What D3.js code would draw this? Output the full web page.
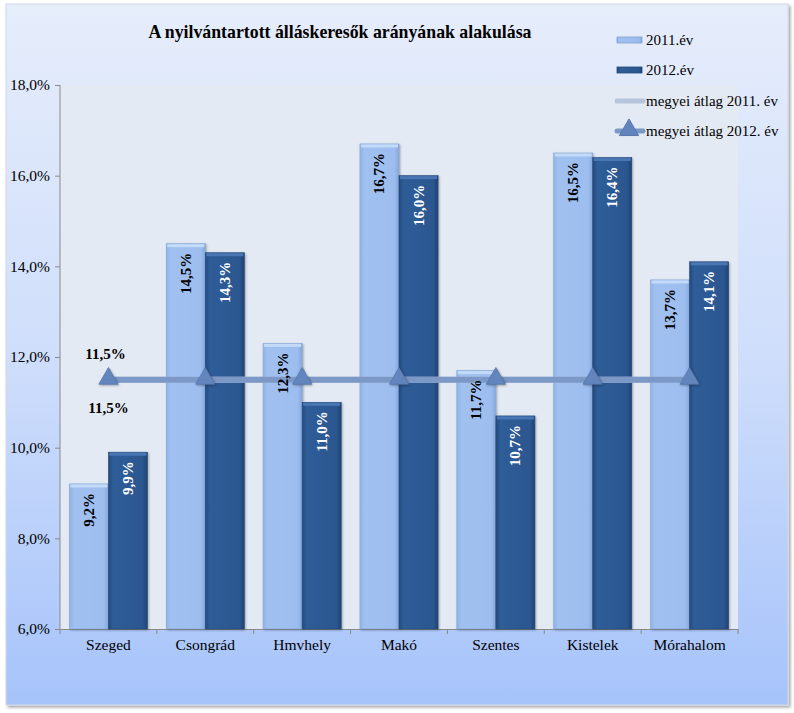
<!DOCTYPE html>
<html><head><meta charset="utf-8">
<script src="https://cdn.jsdelivr.net/npm/d3@7"></script>
<style>body{margin:0;background:#fff}svg{display:block}text{font-family:"Liberation Serif","Times New Roman",serif}</style>
</head><body>
<script>
const categories = ["Szeged","Csongrád","Hmvhely","Makó","Szentes","Kistelek","Mórahalom"];
const series = ["2011.év","2012.év"];
const values2011 = [9.2,14.5,12.3,16.7,11.7,16.5,13.7];
const values2012 = [9.9,14.3,11.0,16.0,10.7,16.4,14.1];
const avg2011 = [11.5,11.5,11.5,11.5,11.5,11.5,11.5];
const avg2012 = [11.5,11.5,11.5,11.5,11.5,11.5,11.5];
const yTicks = [6,8,10,12,14,16,18];
const lineNames = ["megyei átlag 2011. év","megyei átlag 2012. év"];
const title = "A nyilvántartott álláskeresők arányának alakulása";

const W=794,H=713;
const svg=d3.select("body").append("svg").attr("width",W).attr("height",H);
const defs=svg.append("defs");
const bg=defs.append("linearGradient").attr("id","bg").attr("x1",0).attr("y1",0).attr("x2",0).attr("y2",1);
bg.append("stop").attr("offset","0").attr("stop-color","#e6edfb");
bg.append("stop").attr("offset","0.5").attr("stop-color","#cfdefb");
bg.append("stop").attr("offset","1").attr("stop-color","#a6c3fa");
const g1=defs.append("linearGradient").attr("id","gl").attr("x1",0).attr("x2",1);
g1.append("stop").attr("offset","0").attr("stop-color","#8fb2e6");
g1.append("stop").attr("offset","0.12").attr("stop-color","#a0c1f0");
g1.append("stop").attr("offset","0.88").attr("stop-color","#9cbdee");
g1.append("stop").attr("offset","1").attr("stop-color","#86a8dc");
const g2=defs.append("linearGradient").attr("id","gd").attr("x1",0).attr("x2",1);
g2.append("stop").attr("offset","0").attr("stop-color","#244a7c");
g2.append("stop").attr("offset","0.12").attr("stop-color","#2f5d98");
g2.append("stop").attr("offset","0.88").attr("stop-color","#2b5690");
g2.append("stop").attr("offset","1").attr("stop-color","#1f4272");
const sh=defs.append("filter").attr("id","sh").attr("x","-5%").attr("y","-5%").attr("width","110%").attr("height","110%");
sh.append("feDropShadow").attr("dx",2).attr("dy",2).attr("stdDeviation",1.5).attr("flood-color","#000").attr("flood-opacity",0.35);

// outer frame
svg.append("rect").attr("x",6).attr("y",4).attr("width",782).attr("height",701).attr("fill","url(#bg)").attr("stroke","#d0d8e8").attr("filter","url(#sh)");

const m={l:60,r:738,t:85,b:629};
const y=d3.scaleLinear().domain([6,18]).range([m.b,m.t]);
const x0=d3.scaleBand().domain(categories).range([m.l,m.r]).padding(0);
const x1=d3.scaleBand().domain(series).range([0,x0.bandwidth()]).paddingInner(0).paddingOuter(0.24);

svg.append("rect").attr("x",m.l).attr("y",m.t).attr("width",m.r-m.l).attr("height",m.b-m.t).attr("fill","#e4eaf3");

// axes
const yA=svg.append("g").attr("transform",`translate(${m.l},0)`).call(d3.axisLeft(y).tickValues(yTicks).tickSize(5).tickFormat(d=>d.toFixed(1).replace(".",",")+"%"));
yA.selectAll("text").attr("font-size",15.5).attr("fill","#000").attr("dx",-2);
yA.selectAll("line,path").attr("stroke","#8a8a8a");
yA.select("path").attr("d",`M0,${m.t}V${m.b}`);

const xA=svg.append("g").attr("transform",`translate(0,${m.b})`).call(d3.axisBottom(x0).tickSize(0).tickPadding(10));
xA.select("path").attr("stroke","#8a8a8a");
xA.selectAll("text").attr("font-size",15.5).attr("fill","#000");
xA.selectAll(".bnd").data(categories.concat(["_end"])).enter().append("line")
  .attr("x1",(d,i)=>m.l+i*x0.step()).attr("x2",(d,i)=>m.l+i*x0.step()).attr("y1",0).attr("y2",5).attr("stroke","#8a8a8a");

// bars
const data=categories.map((c,i)=>({c,vals:[values2011[i],values2012[i]]}));
const grp=svg.append("g").selectAll("g").data(data).enter().append("g").attr("transform",d=>`translate(${x0(d.c)},0)`);
grp.selectAll("rect.bar").data(d=>d.vals.map((v,j)=>({v,s:series[j],j}))).enter().append("rect")
  .attr("class","bar").attr("x",d=>x1(d.s)).attr("width",x1.bandwidth()).attr("y",d=>y(d.v)).attr("height",d=>y(6)-y(d.v))
  .attr("fill",d=>d.j?"url(#gd)":"url(#gl)").attr("stroke",d=>d.j?"#234a7a":"#88a9da").attr("stroke-width",0.6)
  .style("filter","drop-shadow(1px 1px 1px rgba(0,0,0,0.3))");
grp.selectAll("rect.top").data(d=>d.vals.map((v,j)=>({v,s:series[j],j}))).enter().append("rect")
  .attr("x",d=>x1(d.s)+1).attr("width",x1.bandwidth()-2).attr("y",d=>y(d.v)+0.5).attr("height",3)
  .attr("fill",d=>d.j?"#4a77b3":"#c3daf8");

// average lines
const cx=c=>x0(c)+x0.bandwidth()/2;
const ln=d3.line().x((d,i)=>cx(categories[i])).y(d=>y(d));
svg.append("path").attr("d",ln(avg2011)).attr("fill","none").attr("stroke","#b6c4dc").attr("stroke-width",6);
svg.append("path").attr("d",ln(avg2012)).attr("fill","none").attr("stroke","#7b98c6").attr("stroke-width",6);
const tri=d3.symbol().type(d3.symbolTriangle).size(160);
svg.append("g").selectAll("path").data(avg2012).enter().append("path")
  .attr("d",tri).attr("transform",(d,i)=>`translate(${cx(categories[i])},${y(d)-1})`)
  .attr("fill","#6285bd").attr("stroke","#5577ad").attr("stroke-width",0.8)
  .style("filter","drop-shadow(1px 1px 1px rgba(0,0,0,0.3))");

// bar labels (on top)
const lab=svg.append("g").selectAll("g").data(data).enter().append("g").attr("transform",d=>`translate(${x0(d.c)},0)`);
lab.selectAll("text").data(d=>d.vals.map((v,j)=>({v,s:series[j],j}))).enter().append("text")
  .attr("transform",d=>`translate(${x1(d.s)+x1.bandwidth()/2+5},${y(d.v)+9}) rotate(-90)`)
  .attr("text-anchor","end").attr("font-size",15).attr("font-weight","bold")
  .attr("fill",d=>d.j?"#fff":"#000").text(d=>d.v.toFixed(1).replace(".",",")+"%");

svg.append("text").attr("x",cx(categories[0])-3).attr("y",y(avg2011[0])-21).attr("text-anchor","middle")
  .attr("font-size",15).attr("font-weight","bold").text(avg2011[0].toFixed(1).replace(".",",")+"%");
svg.append("text").attr("x",cx(categories[0])).attr("y",y(avg2012[0])+33).attr("text-anchor","middle")
  .attr("font-size",15).attr("font-weight","bold").text(avg2012[0].toFixed(1).replace(".",",")+"%");

// title
svg.append("text").attr("x",340).attr("y",38).attr("text-anchor","middle").attr("font-size",17.8).attr("font-weight","bold").text(title);

// legend
const lg=svg.append("g");
const ly=[40,70,101,131];
[0,1].forEach(i=>{
  lg.append("rect").attr("x",617).attr("y",ly[i]-3).attr("width",25).attr("height",6)
    .attr("fill",i?"url(#gd)":"url(#gl)").attr("stroke",i?"#234a7a":"#7f9fd0").attr("stroke-width",0.8);
  lg.append("text").attr("x",646).attr("y",ly[i]+5).attr("font-size",15).text(series[i]);
});
lg.append("line").attr("x1",617).attr("x2",643).attr("y1",ly[2]).attr("y2",ly[2]).attr("stroke","#b6c4dc").attr("stroke-width",5).attr("stroke-linecap","round");
lg.append("line").attr("x1",617).attr("x2",643).attr("y1",ly[3]).attr("y2",ly[3]).attr("stroke","#7b98c6").attr("stroke-width",5).attr("stroke-linecap","round");
lg.append("path").attr("d",tri).attr("transform",`translate(629,${ly[3]-1})`).attr("fill","#6285bd").attr("stroke","#5577ad");
lg.append("text").attr("x",646).attr("y",ly[2]+5).attr("font-size",15).text(lineNames[0]);
lg.append("text").attr("x",646).attr("y",ly[3]+5).attr("font-size",15).text(lineNames[1]);
</script>
</body></html>
